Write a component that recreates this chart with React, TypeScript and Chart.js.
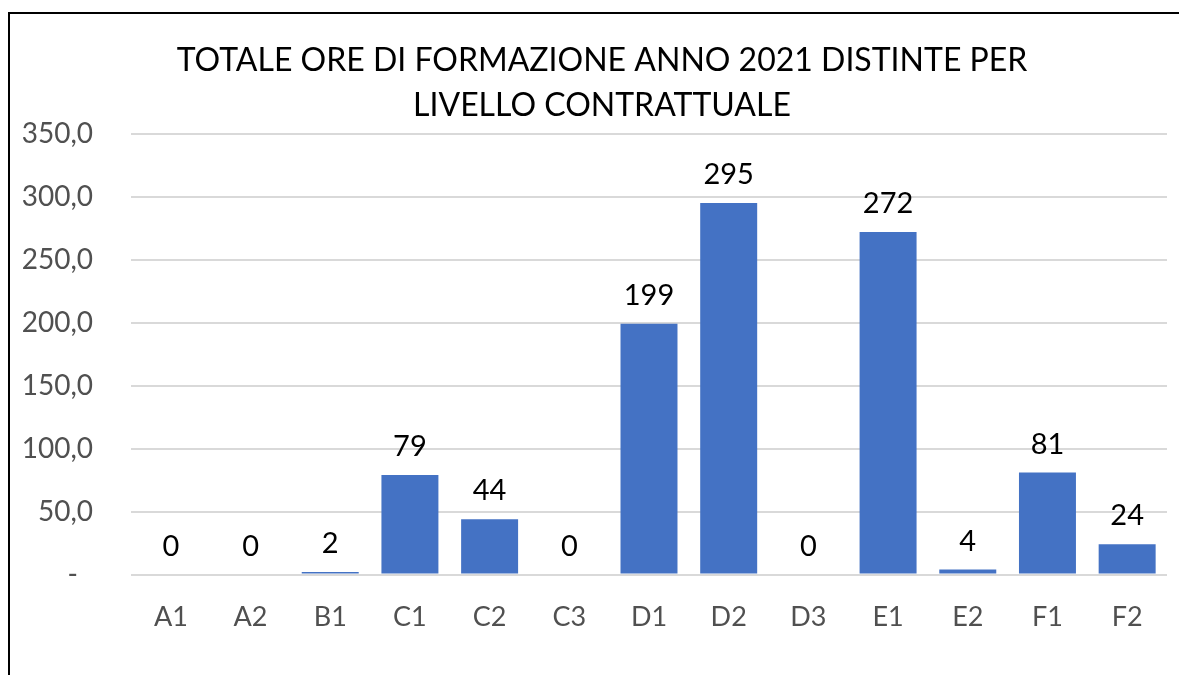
import React, { useEffect, useRef } from "react";
import { Chart, registerables } from "chart.js";

Chart.register(...registerables);

const categories = ["A1", "A2", "B1", "C1", "C2", "C3", "D1", "D2", "D3", "E1", "E2", "F1", "F2"];
const values = [0, 0, 2, 79, 44, 0, 199, 295, 0, 272, 4, 81, 24];
const titleLines = ["TOTALE ORE DI FORMAZIONE ANNO 2021 DISTINTE PER", "LIVELLO CONTRATTUALE"];
const yMax = 350;
const yStep = 50;
const zeroTickLabel = "-";

const FONT = "Lato, 'Open Sans', sans-serif";
const TICK_COLOR = "#505050";

const dataLabelPlugin = {
  id: "dataLabels",
  afterLayout(chart: any) {
    if (chart.titleBlock) {
      chart.titleBlock.left = 37;
    }
  },
  afterDatasetsDraw(chart: any) {
    const ctx = chart.ctx;
    const meta = chart.getDatasetMeta(0);
    ctx.save();
    ctx.font = `29px ${FONT}`;
    ctx.fillStyle = "#000000";
    ctx.textAlign = "center";
    ctx.textBaseline = "alphabetic";
    meta.data.forEach((bar: any, i: number) => {
      ctx.fillText(String(values[i]), bar.x, bar.y - 19);
    });
    // zero tick label (accounting style dash, indented)
    const y = chart.scales.y;
    ctx.font = `28px ${FONT}`;
    ctx.fillStyle = TICK_COLOR;
    ctx.textAlign = "right";
    ctx.textBaseline = "middle";
    ctx.fillText(zeroTickLabel, y.right - 38 - 15, y.getPixelForValue(0));
    ctx.restore();
  },
};

export default function App() {
  const ref = useRef<HTMLCanvasElement>(null);
  useEffect(() => {
    document.body.style.margin = "0";
    const chart = new Chart(ref.current!, {
      type: "bar",
      data: {
        labels: categories,
        datasets: [
          {
            data: values,
            backgroundColor: "#4472C4",
            barPercentage: 0.715,
            categoryPercentage: 1,
          },
        ],
      },
      options: {
        animation: false,
        responsive: false,
        layout: { padding: { left: 0, right: 12, top: 38, bottom: 16 } },
        plugins: {
          legend: { display: false },
          tooltip: { enabled: false },
          title: {
            display: true,
            text: titleLines,
            color: "#000000",
            font: { family: FONT, size: 32, weight: "normal" as any, lineHeight: 1.4 },
            padding: { top: 0, bottom: 6 },
          },
        },
        scales: {
          x: {
            grid: { display: false, drawTicks: false },
            border: { display: false },
            ticks: { color: TICK_COLOR, font: { family: FONT, size: 27 }, padding: 26 },
          },
          y: {
            min: 0,
            max: yMax,
            afterFit: (s: any) => {
              s.width = 131;
            },
            grid: { color: "#d9d9d9", lineWidth: 2, drawTicks: false },
            border: { display: false },
            ticks: {
              stepSize: yStep,
              color: TICK_COLOR,
              font: { family: FONT, size: 28 },
              padding: 38,
              callback: (v: any) => (v === 0 ? "" : Number(v).toFixed(1).replace(".", ",")),
            },
          },
        },
      },
      plugins: [dataLabelPlugin],
    });
    return () => chart.destroy();
  }, []);
  return (
    <div style={{ position: "relative", width: 1179, height: 675, overflow: "hidden", background: "#fff" }}>
      <canvas ref={ref} width={1179} height={675} style={{ position: "absolute", left: 0, top: 0 }} />
      <div
        style={{
          position: "absolute",
          left: 8,
          top: 12,
          right: -10,
          bottom: -10,
          borderTop: "2px solid #000",
          borderLeft: "2px solid #000",
          pointerEvents: "none",
        }}
      />
    </div>
  );
}
